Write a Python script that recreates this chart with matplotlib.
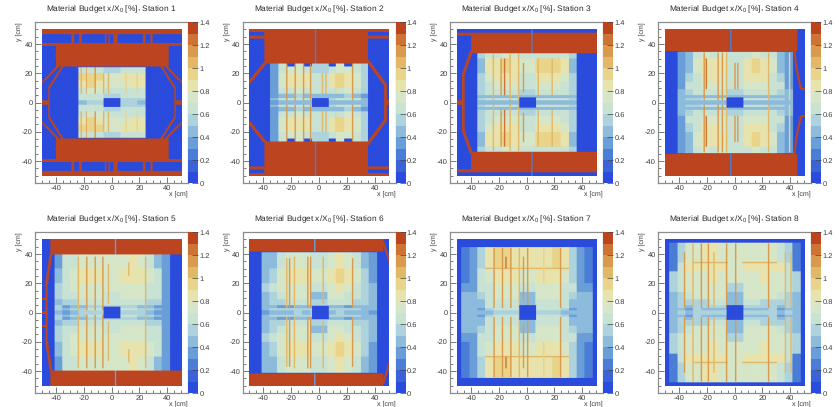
import numpy as np
import matplotlib
matplotlib.use('Agg')
import matplotlib.pyplot as plt
from matplotlib.colors import ListedColormap, BoundaryNorm
from matplotlib.ticker import MultipleLocator

plt.rcParams['font.family'] = ['Liberation Sans', 'DejaVu Sans']
plt.rcParams['mathtext.fontset'] = 'custom'
plt.rcParams['mathtext.rm'] = 'Liberation Sans'
plt.rcParams['axes.unicode_minus'] = False
plt.rcParams['text.hinting'] = 'no_hinting'

# colour bands of the z axis, 0 to 1.4 in steps of 0.1
band_colors = ['#2a4bdc', '#3a63d8', '#4a7ed6', '#6a9ed8', '#8cbbdc', '#aed3dc', '#c8e2d4',
               '#d6e6c8', '#e8e3ac', '#e9d48a', '#e2b868', '#d99a4c', '#cd7434', '#bc4520']
z_ticks = [0, 0.2, 0.4, 0.6, 0.8, 1, 1.2, 1.4]
stations = [1, 2, 3, 4, 5, 6, 7, 8]

RED = 1.35
BLUE = 0.05

# each station: column edges, row edges (y >= 0, mirrored), cell values,
# frame boxes (x0, x1, y0, y1, value), diagonal bars (x0, y0, x1, y1, width), thin lines (x, y0, y1, value)
s1_xe = [-24, -18, -12, -6, 6, 12, 18, 24]
s1_ye = [0, 1.5, 3.2, 6, 10, 15, 20, 24]
s1_cells = [[.45, .55, .55, .55, .5, .5, .45],
            [.6, .65, .65, .6, .55, .55, .55],
            [.6, .65, .65, .55, .6, .6, .6],
            [.65, .7, .7, .65, .65, .65, .65],
            [.85, .9, .85, .7, .75, .8, .8],
            [.9, .95, .9, .7, .8, .85, .85],
            [.65, .65, .6, .55, .6, .6, .6]]
s1_boxes = [(-50, 50, 46.7, 50, RED), (-29, -27, 40, 47, RED), (-23.5, -21.5, 40, 47, RED),
            (-5, -4, 40, 47, RED), (-2.5, -1.5, 40, 47, RED), (1, 4, 40, 47, RED),
            (22, 24, 40, 47, RED), (27.5, 29, 40, 47, RED), (-50, 50, 38.7, 40.5, RED),
            (-40, 40.5, 24.5, 39, RED), (-50, -45, 0, 1.5, RED), (45, 50, 0, 1.5, RED)]
s1_diags = [(-49.5, 14, -37, 26, 1.3), (-45, 10, -35, 25, 1.3), (-45, 0, -45, 10, 1.3),
            (49.5, 14, 37, 26, 1.3), (45, 10, 35, 25, 1.3), (45, 0, 45, 10, 1.3),
            (-40, 32, -36, 25, 1.5), (40, 32, 36, 25, 1.5)]
s1_lines = [(-22, 6, 24, 1.05), (-18.3, 6, 24, 1.15), (-12, 6, 24, 1.15), (-6, 6, 20, 1.0),
            (-2.5, 6, 20, 1.0), (10, 6, 20, 0.95), (18, 6, 20, 0.95)]
s1_hole = (0, 5.8, 3)

s2_xe = [-35, -29, -23, -17, -11, -5, 7, 12, 18, 24, 30, 35]
s2_ye = [0, 1.5, 3.2, 6, 10, 20, 24.5, 26.5]
s2_cells = [[.35, .45, .45, .45, .45, .5, .4, .45, .45, .45, .4],
            [.4, .6, .6, .6, .6, .55, .55, .6, .6, .6, .4],
            [.35, .45, .45, .5, .45, .45, .45, .45, .5, .45, .35],
            [.35, .65, .65, .7, .65, .6, .65, .65, .7, .65, .55],
            [.35, .7, .85, .85, .8, .65, .8, .9, .85, .75, .55],
            [.35, .65, .7, .7, .65, .55, .6, .7, .7, .65, .55],
            [.35, .65, .05, .7, .05, .55, .05, .7, .05, .65, .55]]
s2_boxes = [(-39, 35, 26.5, 50, RED), (-50, -39, 48, 50, RED), (-50, -39, 43.5, 45.5, RED),
            (35, 50, 48, 50, RED), (35, 50, 43.5, 45.5, RED), (-3.2, -2, 26.5, 50, 0.25),
            (47, 50, 0, 1.5, RED)]
s2_diags = [(-49.5, 14, -37.5, 28, 2.2), (35, 28, 47.5, 12, 2.2), (47.5, 0, 47.5, 12, 2.2)]
s2_lines = [(-23, 1.5, 26, 1.1), (-17, 1.5, 26, 1.1), (-11, 1.5, 26, 1.1), (-6, 1.5, 26, 1.1),
            (2.5, 6, 20, 1.0), (5, 6, 20, 1.0), (24, 1.5, 26, 1.1), (12, 6, 20, 0.95)]
s2_hole = (1, 5.8, 3)

s3_xe = [-35.7, -30, -24, -18, -12, -6, 6, 12, 18, 24, 30, 35.5]
s3_ye = [0, 1.5, 3.2, 5, 9, 14, 20, 30, 33.7]
s3_cells = [[.4, .45, .45, .45, .45, .45, .45, .45, .45, .45, .4],
            [.5, .6, .6, .6, .6, .55, .6, .6, .6, .6, .5],
            [.4, .4, .45, .45, .45, .45, .45, .45, .45, .4, .4],
            [.55, .6, .65, .65, .65, .55, .65, .65, .65, .6, .55],
            [.55, .65, .75, .75, .75, .65, .75, .75, .75, .65, .55],
            [.55, .75, .85, .85, .8, .65, .85, .85, .85, .75, .55],
            [.45, .8, .85, .9, .85, .7, .9, .95, .9, .8, .45],
            [.55, .6, .65, .7, .7, .65, .65, .65, .65, .6, .55]]
s3_boxes = [(-40, 50, 33.7, 47.5, RED), (-50, -40, 45.5, 47.5, RED), (-50, -46, 0, 1.5, RED),
            (2.8, 3.8, 33.7, 50, 0.25), (-40, -39, 33.7, 46, RED)]
s3_diags = [(-40, 34, -45.5, 19, 2.2), (-45.5, 0, -45.5, 19, 2.2)]
s3_lines = [(-24, 1.5, 33, 1.05), (-18.5, 5, 30, 1.15), (-16, 5, 30, 1.2), (-12, 1.5, 33, 1.05),
            (-6, 1.5, 33, 1.05), (-2.5, 7, 27, 1.1), (18, 5, 30, 1.0), (8, 5, 30, 1.0)]
s3_hole = (0.5, 5.8, 3.4)

s4_xe = [-41, -35.5, -30, -24, -18, -12, -6, 6, 12, 18, 24, 30, 35.5, 41.5]
s4_ye = [0, 1.5, 3.2, 5, 9, 14, 20, 30, 34.5]
s4_cells = [[.4, .4, .45, .45, .45, .45, .45, .45, .45, .45, .45, .4, .4],
            [.45, .5, .55, .6, .6, .6, .55, .6, .6, .6, .55, .5, .45],
            [.4, .4, .4, .45, .45, .45, .45, .45, .45, .45, .4, .4, .4],
            [.4, .55, .6, .65, .65, .65, .55, .65, .65, .65, .6, .55, .4],
            [.35, .6, .65, .7, .7, .7, .6, .7, .7, .7, .65, .6, .35],
            [.35, .5, .65, .8, .8, .75, .6, .8, .85, .8, .65, .5, .35],
            [.35, .45, .75, .85, .85, .8, .65, .85, .9, .85, .75, .45, .35],
            [.35, .45, .6, .7, .65, .7, .6, .65, .7, .65, .6, .45, .35]]
s4_boxes = [(-50, 44.5, 35, 50, RED), (-3.5, -2.5, 35, 50, 0.25), (41.5, 43.5, 34, 42, RED),
            (47, 50, 8.5, 10, RED)]
s4_diags = [(42.5, 35, 44, 23, 1.5), (44, 23, 47, 9.5, 1.5)]
s4_lines = [(-22, 1.5, 34, 1.1), (-20.5, 9, 30, 1.2), (-12, 1.5, 34, 1.1), (-9, 1.5, 34, 1.1),
            (-6, 1.5, 34, 1.05), (0, 9, 27, 1.1), (2, 9, 27, 1.1), (24, 1.5, 34, 1.05), (39, 1.5, 34, 0.95)]
s4_hole = (0, 5.8, 3.4)

s5_xe = [-41, -35.5, -30, -24, -18, -12, -6, 6, 12, 18, 24, 30, 35.5, 41.5]
s5_ye = [0, 1.5, 3.2, 5, 9, 14, 20, 30, 39.5]
s5_cells = [[.4, .35, .45, .5, .5, .5, .5, .5, .5, .5, .45, .35, .35],
            [.5, .4, .55, .55, .6, .6, .6, .6, .6, .55, .55, .4, .35],
            [.5, .35, .45, .45, .5, .5, .5, .5, .5, .45, .45, .35, .35],
            [.45, .5, .55, .6, .65, .65, .6, .65, .65, .6, .55, .5, .35],
            [.5, .6, .65, .7, .7, .7, .6, .7, .7, .7, .65, .6, .35],
            [.55, .65, .7, .75, .75, .75, .7, .75, .75, .75, .65, .6, .35],
            [.45, .65, .75, .85, .85, .8, .75, .85, .85, .8, .7, .6, .35],
            [.35, .6, .65, .7, .75, .75, .7, .75, .8, .7, .6, .45, .3]]
s5_boxes = [(-44, 50, 39.7, 50, RED), (2, 3, 39.7, 50, 0.3), (-50, -47, 8.5, 10, RED),
            (-50, -47, 0, 1, RED), (-47.5, -46, 0, 20, RED)]
s5_diags = [(-43.5, 40, -47, 18, 2.0)]
s5_lines = [(-24, 1.5, 38, 1.05), (-18, 1.5, 38, 1.1), (-12, 1.5, 38, 1.15), (-6.5, 1.5, 38, 1.15),
            (-2.5, 6, 33, 1.05), (24, 1.5, 38, 1.05), (12, 25, 34, 1.0)]
s5_hole = (0, 5.8, 3.8)

s6_xe = [-41, -35.5, -30, -24, -18, -12, -6, 6, 12, 18, 24, 30, 35.5, 41.5]
s6_ye = [0, 1.5, 3.2, 5, 9, 14, 20, 30, 41]
s6_cells = [[.3, .4, .45, .45, .5, .45, .5, .45, .5, .45, .45, .4, .3],
            [.45, .5, .55, .55, .55, .55, .55, .55, .55, .55, .5, .45, .4],
            [.4, .4, .35, .35, .4, .4, .45, .4, .4, .35, .4, .4, .4],
            [.45, .5, .55, .6, .65, .6, .55, .6, .6, .6, .55, .5, .4],
            [.45, .55, .65, .7, .7, .7, .45, .7, .7, .65, .65, .55, .45],
            [.5, .6, .7, .75, .75, .75, .6, .75, .8, .7, .65, .55, .45],
            [.4, .55, .7, .8, .8, .8, .7, .85, .9, .8, .7, .55, .35],
            [.4, .45, .6, .7, .7, .7, .65, .75, .85, .7, .6, .45, .35]]
s6_boxes = [(-50, 46, 41.3, 50, RED), (-3.3, -2.3, 41.3, 50, 0.3)]
s6_diags = [(46, 48, 50.5, 34, 1.5)]
s6_lines = [(-23, 3, 37, 1.05), (-21, 3, 37, 1.1), (-17.5, 3, 38, 1.05), (-8, 3, 38, 1.15),
            (-6, 3, 38, 1.15), (3, 6, 38, 1.05), (24, 3, 37, 1.1)]
s6_hole = (1, 5.8, 4.4)

s7_xe = [-47, -41, -35.5, -30, -24, -18, -12, -6, 6, 12, 18, 24, 30, 35.5, 41, 47]
s7_ye = [0, 1.5, 3.2, 5, 9, 14, 20, 30, 44.5]
s7_cells = [[.4, .4, .4, .45, .55, .55, .55, .55, .55, .55, .55, .45, .4, .4, .4],
            [.4, .45, .35, .55, .6, .6, .6, .55, .6, .6, .6, .55, .35, .45, .4],
            [.4, .45, .4, .6, .65, .65, .65, .5, .65, .65, .65, .6, .4, .45, .4],
            [.4, .45, .4, .6, .65, .65, .65, .45, .65, .65, .65, .6, .4, .45, .4],
            [.4, .45, .5, .6, .7, .7, .7, .45, .7, .7, .7, .6, .5, .45, .4],
            [.3, .35, .6, .65, .75, .75, .75, .65, .75, .75, .75, .65, .6, .35, .3],
            [.2, .35, .6, .7, .8, .8, .8, .75, .8, .8, .8, .7, .55, .35, .2],
            [.2, .35, .5, .85, .9, .9, .85, .8, .85, .85, .9, .85, .5, .35, .2]]
s7_boxes = [(-30, 30, 29.7, 30.3, 1.0)]
s7_diags = []
s7_lines = [(-23.5, 3, 44, 1.1), (-17.5, 3, 44, 1.15), (-15, 30, 38, 1.2), (-11.5, 3, 44, 1.1),
            (-5.5, 3, 44, 1.05), (-2.5, 8, 38, 1.1), (0.5, 3, 44, 1.1), (24, 3, 44, 1.15), (12, 20, 44, 0.95)]
s7_hole = (0.5, 5.8, 4.8)

s8_xe = [-47, -41, -35.5, -30, -24, -18, -12, -6, 6, 12, 18, 24, 30, 35.5, 41, 47]
s8_ye = [0, 1.5, 3.2, 5, 9, 14, 20, 28, 34, 47.5]
s8_cells = [[.45, .5, .45, .5, .5, .55, .55, .55, .55, .55, .5, .5, .45, .5, .45],
            [.4, .45, .35, .5, .4, .45, .4, .45, .4, .45, .4, .5, .35, .45, .4],
            [.4, .5, .45, .55, .5, .55, .55, .5, .55, .55, .5, .55, .45, .5, .4],
            [.4, .5, .5, .55, .55, .6, .6, .45, .6, .6, .55, .55, .5, .5, .4],
            [.45, .55, .65, .7, .7, .7, .7, .45, .7, .7, .7, .7, .65, .55, .45],
            [.55, .6, .7, .75, .75, .75, .75, .55, .75, .75, .75, .75, .7, .6, .55],
            [.55, .6, .7, .75, .75, .8, .75, .7, .75, .75, .8, .75, .7, .6, .55],
            [.25, .65, .85, .85, .85, .85, .8, .75, .8, .85, .85, .85, .85, .65, .25],
            [.25, .55, .7, .75, .8, .8, .75, .75, .75, .75, .75, .75, .6, .55, .25]]
s8_boxes = [(-30, -5, 33.7, 34.3, 1.0), (5, 30, 33.7, 34.3, 1.0)]
s8_diags = []
s8_lines = [(-36, 3, 41, 1.1), (-30, 3, 47, 1.05), (-24, 3, 47, 1.15), (-19, 3, 47, 1.1),
            (-15, 3, 41, 1.05), (-6, 3, 47, 1.1), (0.5, 5, 47, 1.15), (24, 3, 47, 1.15),
            (36, 3, 41, 1.0), (40, 3, 41, 1.0)]
s8_hole = (0, 5.8, 4.8)

all_xe = [s1_xe, s2_xe, s3_xe, s4_xe, s5_xe, s6_xe, s7_xe, s8_xe]
all_ye = [s1_ye, s2_ye, s3_ye, s4_ye, s5_ye, s6_ye, s7_ye, s8_ye]
all_cells = [s1_cells, s2_cells, s3_cells, s4_cells, s5_cells, s6_cells, s7_cells, s8_cells]
all_boxes = [s1_boxes, s2_boxes, s3_boxes, s4_boxes, s5_boxes, s6_boxes, s7_boxes, s8_boxes]
all_diags = [s1_diags, s2_diags, s3_diags, s4_diags, s5_diags, s6_diags, s7_diags, s8_diags]
all_lines = [s1_lines, s2_lines, s3_lines, s4_lines, s5_lines, s6_lines, s7_lines, s8_lines]
all_holes = [s1_hole, s2_hole, s3_hole, s4_hole, s5_hole, s6_hole, s7_hole, s8_hole]

# pixel boxes of the frames: left, right
panel_left = [35, 242.5, 450, 658]
panel_width = 153
cbar_width = 10
row_top = [22, 232]
row_bottom = [183, 393]

W, H = 839, 407
cmap = ListedColormap(band_colors)
norm = BoundaryNorm(np.linspace(0, 1.4, 15), cmap.N)

centers = np.arange(-50, 50, 0.5) + 0.25
X, Y = np.meshgrid(centers, centers)


def box(grid, x0, x1, y0, y1, v):
    grid[(X >= x0) & (X < x1) & (np.abs(Y) >= y0) & (np.abs(Y) < y1)] = v


def bar(grid, x0, y0, x1, y1, w):
    # thick segment, mirrored in y
    dx, dy = x1 - x0, y1 - y0
    t = np.clip(((X - x0) * dx + (np.abs(Y) - y0) * dy) / (dx * dx + dy * dy), 0, 1)
    d = np.hypot(X - x0 - t * dx, np.abs(Y) - y0 - t * dy)
    grid[d < w / 2] = RED


def build(i):
    grid = np.full(X.shape, BLUE)
    for b in all_boxes[i]:
        if b[4] == RED:
            box(grid, *b)
    for d in all_diags[i]:
        bar(grid, *d)
    xe, ye, cells = all_xe[i], all_ye[i], all_cells[i]
    for r in range(len(ye) - 1):
        for c in range(len(xe) - 1):
            box(grid, xe[c], xe[c + 1], ye[r], ye[r + 1], cells[r][c])
    for b in all_boxes[i]:
        if b[4] != RED:
            box(grid, *b)
    for x, y0, y1, v in all_lines[i]:
        box(grid, x - 0.3, x + 0.3, y0, y1, v)
    cx, hx, hy = all_holes[i]
    box(grid, cx - hx, cx + hx, 0, hy, BLUE)
    return grid


fig = plt.figure(figsize=(W / 100, H / 100), dpi=100)
text_color = '#3a3a3a'
frame_color = '#8c8c8c'

for i, st in enumerate(stations):
    row, col = i // 4, i % 4
    l, t, b = panel_left[col], row_top[row], row_bottom[row]
    ax = fig.add_axes([l / W, 1 - b / H, panel_width / W, (b - t) / H])
    im = ax.imshow(build(i), origin='lower', extent=(-50, 50, -50, 50), cmap=cmap, norm=norm,
                   interpolation='hanning', interpolation_stage='rgba', aspect='auto')
    ax.set_xlim(-55, 55)
    ax.set_ylim(-55, 55)
    ax.xaxis.set_major_locator(MultipleLocator(20))
    ax.yaxis.set_major_locator(MultipleLocator(20))
    ax.xaxis.set_minor_locator(MultipleLocator(5))
    ax.yaxis.set_minor_locator(MultipleLocator(5))
    ax.tick_params(which='major', direction='in', length=4, width=0.5, color='#444444',
                   labelsize=5.4, labelcolor=text_color, pad=1.5)
    ax.tick_params(which='minor', direction='in', length=2, width=0.5, color='#444444')
    for s in ax.spines.values():
        s.set_color(frame_color)
        s.set_linewidth(0.9)

    ax.text(1.0, -0.066, 'x [cm]', transform=ax.transAxes, ha='right', va='center',
            fontsize=5, color=text_color)
    ax.text(-0.105, 1.0, 'y [cm]', transform=ax.transAxes, ha='center', va='top',
            rotation=90, fontsize=5, color=text_color)
    fig.text((l + panel_width / 2) / W, 1 - (t - 13) / H,
             f'Material Budget x/X$_0$ [%], Station {st}', ha='center', va='center',
             fontsize=6.0, color='#2a2a2a')

    cax = fig.add_axes([(l + panel_width) / W, 1 - b / H, cbar_width / W, (b - t) / H])
    cb = fig.colorbar(im, cax=cax, ticks=z_ticks, spacing='proportional', drawedges=False)
    cb.ax.set_yticklabels(['0', '0.2', '0.4', '0.6', '0.8', '1', '1.2', '1.4'])
    cb.ax.tick_params(direction='in', length=4, width=0.5, color='#444444', labelsize=5.4,
                      labelcolor=text_color, pad=1)
    cb.ax.minorticks_off()
    cb.outline.set_linewidth(0)

fig.savefig('out.png', dpi=100)
